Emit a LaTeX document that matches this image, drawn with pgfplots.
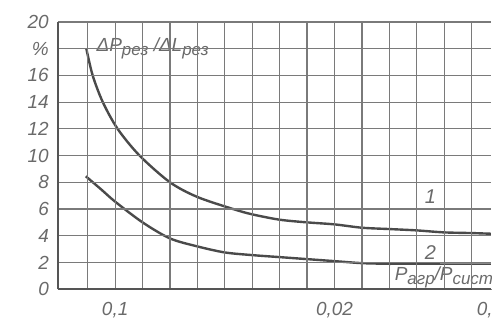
\documentclass[border=0pt]{standalone}
\usepackage{fontspec}
\setmainfont{Liberation Sans}
\usepackage{pgfplots}
\pgfplotsset{compat=1.18}
\definecolor{gridc}{HTML}{7A7A7A}
\definecolor{framec}{HTML}{555555}
\definecolor{curvec}{HTML}{4A4A4A}
\definecolor{textc}{HTML}{6A6A6A}
\begin{document}
\begin{tikzpicture}
\begin{axis}[scale only axis, width=217.1pt, height=134pt,
  xmin=-1.09, xmax=14.7, ymin=0, ymax=20,
  axis on top=true,
  axis x line*=bottom, axis y line*=left,
  xtick={0,...,14},
  xticklabels={,{0,1},,,,,,,,{0,02},,,,,},
  extra x ticks={14.7},
  extra x tick labels={\makebox[0pt][l]{\hspace{-7pt}0,01}},
  extra x tick style={grid=none, xticklabel style={inner xsep=0pt}},
  ytick={0,2,...,20},
  yticklabels={0,2,4,6,8,10,12,14,16,{\%},20},
  xmajorgrids=true, ymajorgrids=true,
  grid style={draw=gridc, line width=0.6pt},
  major tick length=0.1pt,
  axis line style={-, draw=framec, line width=1pt},
  tick label style={font=\fontsize{9.5}{10}\selectfont\itshape, text=textc},
  /pgf/number format/assume math mode=true,
  xticklabel style={yshift=-3pt},
  yticklabel style={xshift=-1pt},
  clip=false]
\addplot[draw=none, forget plot] coordinates {(-3.199,-2.836) (14.7,21.642)};
\addplot[curvec, line width=1.2pt, smooth, tension=0.5] coordinates {
 (-0.05,18.0) (0.18,16.0) (0.55,14.0) (1.09,12.0) (1.89,10.0) (3.0,8.0)
 (4,6.9) (5.3,6.0) (6,5.6) (7,5.2) (8,5.0) (9,4.85) (10,4.6) (11,4.5)
 (12,4.4) (13,4.25) (14,4.2) (14.7,4.15)};
\addplot[curvec, line width=1.2pt, smooth, tension=0.5] coordinates {
 (-0.07,8.45) (0.5,7.45) (1,6.55) (2,5.0) (3,3.8) (4,3.2) (5,2.75) (6,2.55)
 (7,2.4) (8,2.25) (9,2.1) (10,1.95) (11,1.9) (12,1.87) (13,1.85) (14.7,1.85)};
\node[fill=white, anchor=west, inner sep=1.5pt, text=textc,
  font=\fontsize{9.5}{10}\selectfont\itshape] at (axis cs:0.2,18)
  {ΔP\raisebox{-0.4ex}{\fontsize{8.5}{9}\selectfont рез} /ΔL\raisebox{-0.4ex}{\fontsize{8.5}{9}\selectfont рез}};
\node[fill=white, anchor=south west, inner xsep=0pt, inner ysep=1pt,
  text height=7pt, text depth=2.3pt, text=textc,
  font=\fontsize{9.5}{10}\selectfont\itshape] at (axis cs:11.04,0.1)
  {\makebox[50.3pt][l]{\hspace{2pt}P\raisebox{-0.4ex}{\fontsize{8.5}{9}\selectfont агр}/P\raisebox{-0.4ex}{\fontsize{8.5}{9}\selectfont сист}}};
\node[text=textc, font=\fontsize{10}{11}\selectfont\itshape] at (axis cs:12.5,6.9) {1};
\node[text=textc, font=\fontsize{10}{11}\selectfont\itshape] at (axis cs:12.5,2.75) {2};
\end{axis}
\end{tikzpicture}
\end{document}
